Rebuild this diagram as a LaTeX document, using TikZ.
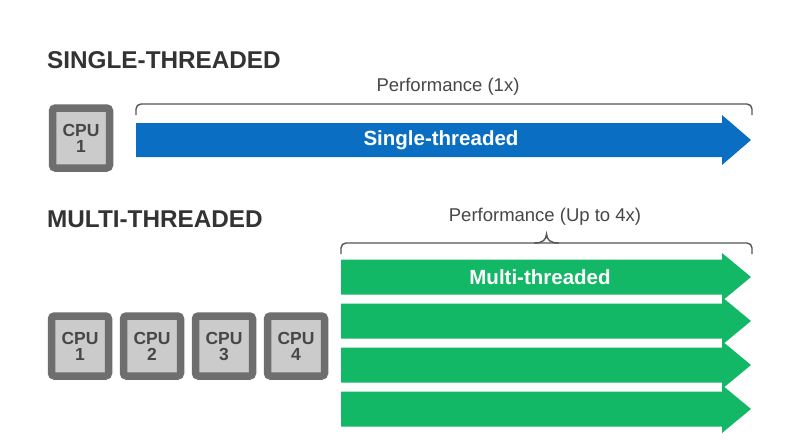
\documentclass[tikz,border=0pt]{standalone}
\usepackage{fontspec}
\setmainfont{Liberation Sans}
\definecolor{headc}{HTML}{333333}
\definecolor{cpuout}{HTML}{6E6E6E}
\definecolor{cpuin}{HTML}{CBCBCB}
\definecolor{cputxt}{HTML}{474747}
\definecolor{bluearr}{HTML}{0A6FC3}
\definecolor{greenarr}{HTML}{13B866}
\definecolor{bracec}{HTML}{555555}
\begin{document}
\begin{tikzpicture}[x=1pt,y=-1pt,
  heading/.style={anchor=base west,inner sep=0pt,text=headc,font=\fontsize{24.3}{24}\selectfont\bfseries},
  cpubox/.style={draw=cpuout,line width=7.5pt,fill=cpuin,rounded corners=3pt,
    minimum width=57pt,minimum height=60pt,inner sep=0pt,align=center,text=cputxt,
    font=\fontsize{17.5}{16}\selectfont\bfseries},
  perf/.style={text=headc!90,font=\fontsize{18.5}{18.5}\selectfont,inner sep=0pt},
  arrtxt/.style={text=white,font=\fontsize{20.5}{20.5}\selectfont\bfseries,inner sep=0pt},
  bracel/.style={draw=bracec,line width=1.4pt,rounded corners=5pt}]
\useasboundingbox (0,0) rectangle (800,447);
\fill[white] (0,0) rectangle (800,447);
% headings
\node[heading] (h1) at (47,68) {SINGLE-THREADED};
\node[heading] (h2) at (47,227) {MULTI-THREADED};
% single CPU
\node[cpubox] (c0) at (81,138) {CPU\\1};
% multi CPUs
\node[cpubox] (c1) at (80,346) {CPU\\1};
\node[cpubox] (c2) at (152,346) {CPU\\2};
\node[cpubox] (c3) at (224,346) {CPU\\3};
\node[cpubox] (c4) at (296,346) {CPU\\4};
% single arrow
\fill[bluearr] (136,123) -- (722,123) -- (722,115) -- (751,140) -- (722,165) -- (722,157) -- (136,157) -- cycle;
\node[arrtxt] (st) at (441,140) {Single-threaded};
% bracket single
\draw[bracel] (136,115) -- (136,104) -- (752,104) -- (752,115);
\node[perf] (p1) at (448,87) {Performance (1x)};
% multi arrows
\foreach \yc in {277,321,365,409}{
  \fill[greenarr] (341,\yc-17.5) -- (722,\yc-17.5) -- (722,\yc-24) -- (751,\yc) -- (722,\yc+24) -- (722,\yc+17.5) -- (341,\yc+17.5) -- cycle;
}
\node[arrtxt] (mt) at (540,277) {Multi-threaded};
% bracket multi
\draw[bracel] (341,254) -- (341,243) -- (752,243) -- (752,254);
\draw[draw=bracec,line width=1.4pt] (534,243) .. controls (543,243) and (546,240) .. (546.5,234) .. controls (547,240) and (550,243) .. (559,243);
\node[perf] (p2) at (545,217) {Performance (Up to 4x)};
\end{tikzpicture}
\end{document}
